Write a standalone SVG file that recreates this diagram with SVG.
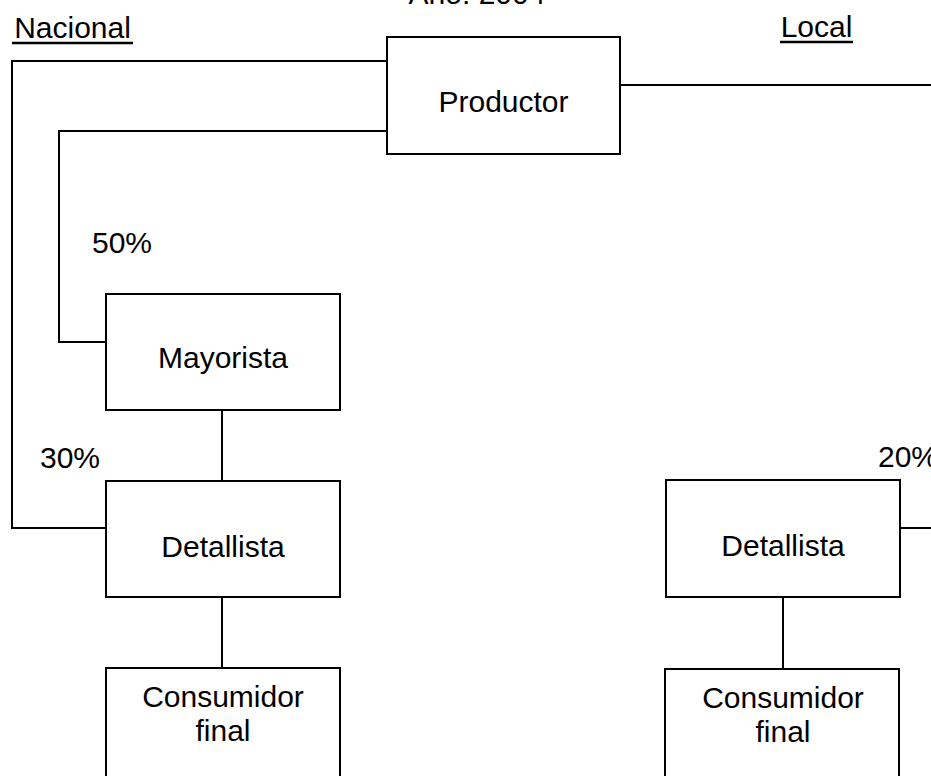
<svg xmlns="http://www.w3.org/2000/svg" width="931" height="776" viewBox="0 0 931 776">
<style>
.box{fill:#fff;stroke:#000;stroke-width:2}
.ln{fill:none;stroke:#000;stroke-width:2}
.t{font-family:"Liberation Sans",Arial,sans-serif;font-size:30px;fill:#000;text-anchor:middle}
.ul{stroke:#000;stroke-width:2.5}
</style>
<rect width="931" height="776" fill="#fff"/>
<g id="labels">
<text class="t" x="477" y="4">Año: 2004</text>
<text class="t" x="72.5" y="38">Nacional</text>
<line class="ul" x1="12" y1="43" x2="133" y2="43"/>
<text class="t" x="816.5" y="37">Local</text>
<line class="ul" x1="780" y1="42" x2="853" y2="42"/>
<text class="t" x="122" y="253">50%</text>
<text class="t" x="70" y="468">30%</text>
<text class="t" x="908" y="467">20%</text>
</g>
<g id="connectors">
<path class="ln" d="M387,61 H12 V528 H106"/>
<path class="ln" d="M387,131 H59 V342 H106"/>
<path class="ln" d="M620,85 H945 V528 H900"/>
<path class="ln" d="M222,410 V481"/>
<path class="ln" d="M222,597 V668"/>
<path class="ln" d="M783,597 V669"/>
</g>
<g id="productor">
<rect class="box" x="387" y="37" width="233" height="117"/>
<text class="t" x="503.5" y="112">Productor</text>
</g>
<g id="mayorista">
<rect class="box" x="106" y="294" width="234" height="116"/>
<text class="t" x="223" y="368">Mayorista</text>
</g>
<g id="detallista-nacional">
<rect class="box" x="106" y="481" width="234" height="116"/>
<text class="t" x="223" y="557">Detallista</text>
</g>
<g id="consumidor-nacional">
<rect class="box" x="106" y="668" width="234" height="140"/>
<text class="t" x="223" y="707">Consumidor</text>
<text class="t" x="223" y="741">final</text>
</g>
<g id="detallista-local">
<rect class="box" x="666" y="480" width="234" height="117"/>
<text class="t" x="783" y="556">Detallista</text>
</g>
<g id="consumidor-local">
<rect class="box" x="665" y="669" width="234" height="140"/>
<text class="t" x="783" y="708">Consumidor</text>
<text class="t" x="783" y="742">final</text>
</g>
</svg>
